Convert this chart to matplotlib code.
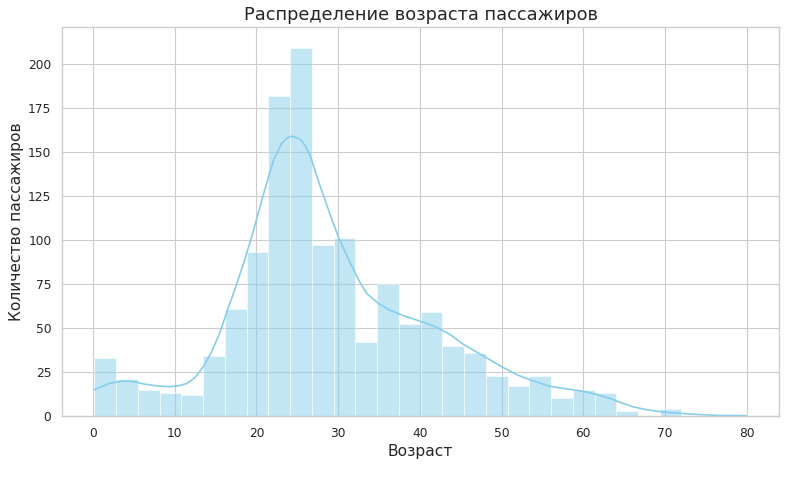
import numpy as np
import matplotlib
matplotlib.use("Agg")
import matplotlib.pyplot as plt
import seaborn as sns

# Histogram data (30 bins between min and max age)
age_min = 0.17
age_max = 80.0
n_bins = 30
counts = [33, 21, 15, 13, 12, 34, 61, 93, 182, 209,
          97, 101, 42, 75, 52, 59, 40, 36, 23, 17,
          23, 10, 15, 13, 3, 0, 4, 0, 0, 1]

# KDE curve (age, count-scaled density)
kde_age = [0.17, 2.0, 3.7, 5.0, 6.2, 8.0, 9.4, 10.5, 11.5, 12.5, 13.5, 14.5, 15.5,
           16.0, 17.2, 18.45, 19.67, 20.9, 22.1, 23.1, 23.7, 24.2, 24.8, 25.4, 26.0,
           26.6, 27.8, 29.1, 30.0, 31.1, 32.0, 32.7, 33.5, 34.9, 36.3, 38.0, 39.6, 41.0,
           42.0, 43.7, 45.3, 47.7, 50.2, 52.0, 53.9, 55.9, 58.0, 60.0, 61.6, 63.2,
           64.6, 66.1, 67.5, 69.0, 70.5, 72.2, 74.2, 76.3, 78.2, 80.0]
kde_cnt = [15.0, 18.5, 19.9, 19.5, 18.2, 17.0, 16.7, 17.2, 18.5, 22.0, 28.0, 36.5, 47.0,
           54.0, 70.0, 87.0, 106.0, 126.7, 145.6, 155.0, 157.8, 158.9, 158.4, 157.0, 153.3,
           147.5, 130.5, 113.4, 102.0, 90.7, 82.0, 75.6, 69.6, 64.0, 60.2, 57.0, 54.5, 52.3,
           50.5, 46.3, 40.8, 34.3, 27.5, 23.2, 19.8, 16.9, 15.4, 14.0, 12.3, 10.1,
           7.6, 5.2, 3.8, 2.7, 2.0, 1.4, 0.8, 0.4, 0.2, 0.1]

sns.set_theme(style="whitegrid")
plt.rcParams['font.family'] = ['DejaVu Sans']

fig, ax = plt.subplots(figsize=(802 / 80, 479 / 80), dpi=80)
fig.subplots_adjust(left=62 / 802, right=779 / 802, top=1 - 27 / 479, bottom=1 - 416 / 479)

edges = np.linspace(age_min, age_max, n_bins + 1)
ax.bar(edges[:-1], counts, width=np.diff(edges), align="edge",
       color="skyblue", alpha=0.5, edgecolor="white", linewidth=1.0)
ax.plot(kde_age, kde_cnt, color="skyblue", linewidth=1.5)

ax.set_xlim(-3.8, 83.95)
ax.set_ylim(0, 221)
ax.set_xticks([0, 10, 20, 30, 40, 50, 60, 70, 80])
ax.set_yticks([0, 25, 50, 75, 100, 125, 150, 175, 200])
ax.tick_params(labelsize=11)
ax.set_title("Распределение возраста пассажиров", fontsize=16)
ax.set_xlabel("Возраст", fontsize=14)
ax.set_ylabel("Количество пассажиров", fontsize=14)

fig.savefig("out.png", dpi=80)
